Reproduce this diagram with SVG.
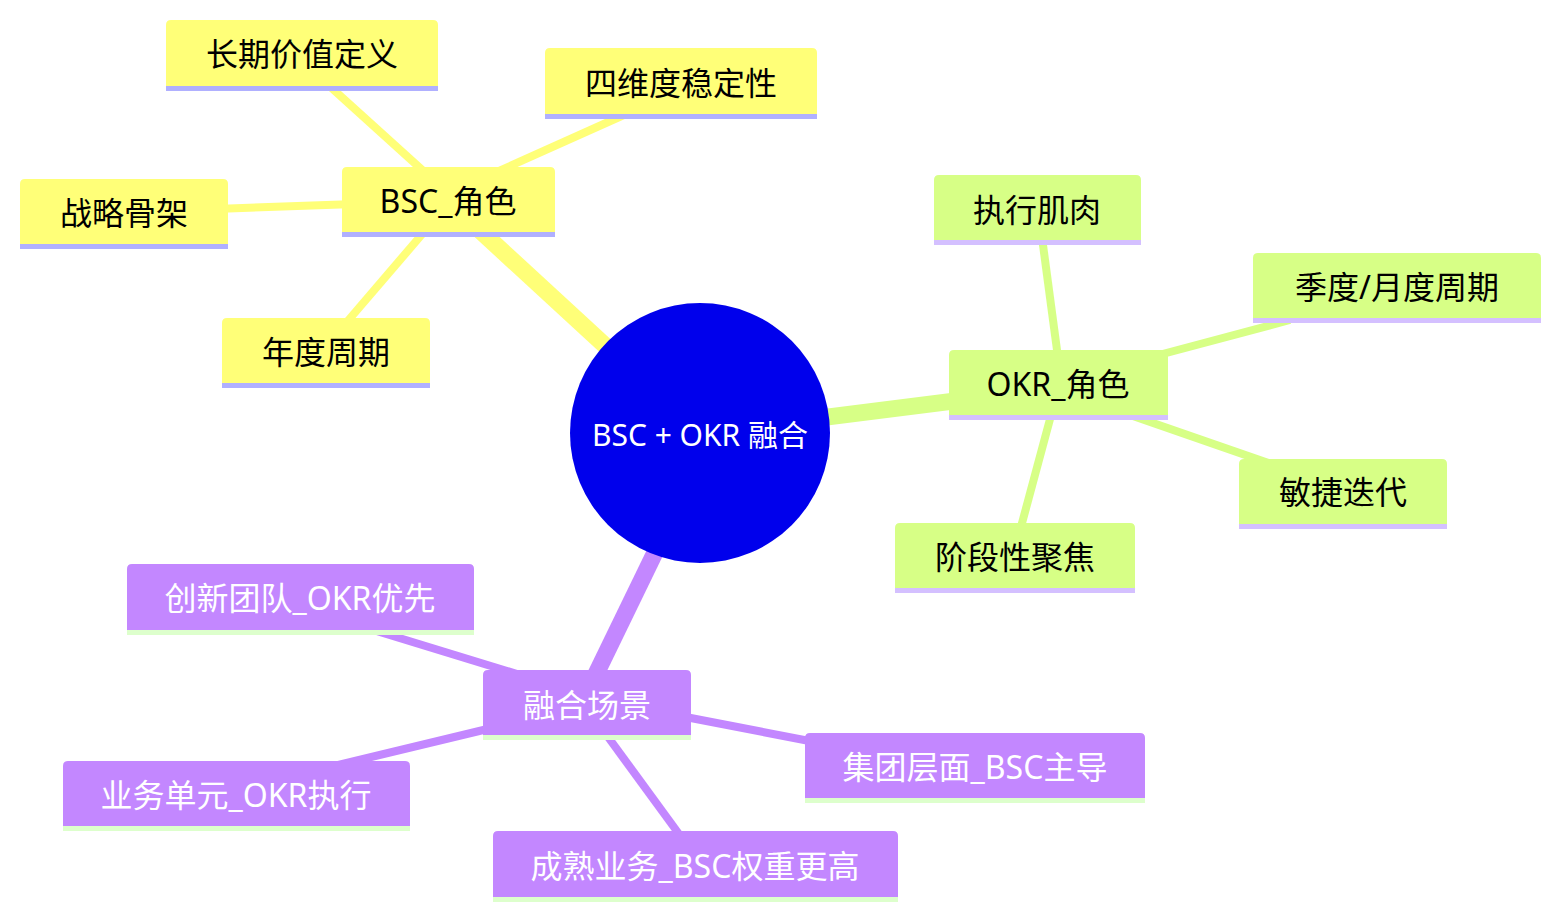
<svg xmlns="http://www.w3.org/2000/svg" width="1561" height="919" viewBox="0 0 1561 919">
<style>
text{font-family:"Noto Sans","Noto Sans CJK SC",sans-serif;font-size:32px;text-anchor:middle;dominant-baseline:central}
.s0 .bg{fill:#ffff78}.s0 .ul{fill:#b0b0ff}.s0 text{fill:#000}
.s1 .bg{fill:#d7ff86}.s1 .ul{fill:#d4c0ff}.s1 text{fill:#000}
.s2 .bg{fill:#c387ff}.s2 .ul{fill:#ddffcc}.s2 text{fill:#fff}
.e0{stroke:#ffff78}.e1{stroke:#d7ff86}.e2{stroke:#c387ff}
#edges line{fill:none;stroke-linecap:butt}
.main{stroke-width:17}.leaf{stroke-width:8}
</style>
<rect width="1561" height="919" fill="#fff"/>
<g id="edges">
<line class="e0 main" x1="448" y1="201" x2="700" y2="433"/>
<line class="e1 main" x1="700" y1="433" x2="1058" y2="388"/>
<line class="e2 main" x1="713" y1="433" x2="581" y2="705"/>
<line class="e0 leaf" x1="325" y1="82" x2="430" y2="177"/>
<line class="e0 leaf" x1="635" y1="110" x2="490" y2="175"/>
<line class="e0 leaf" x1="215" y1="209" x2="355" y2="204"/>
<line class="e0 leaf" x1="340" y1="330" x2="430" y2="225"/>
<line class="e1 leaf" x1="1041" y1="230" x2="1059" y2="365"/>
<line class="e1 leaf" x1="1290" y1="320" x2="1140" y2="360"/>
<line class="e1 leaf" x1="1130" y1="415" x2="1280" y2="467"/>
<line class="e1 leaf" x1="1053" y1="408" x2="1018" y2="538"/>
<line class="e2 leaf" x1="370" y1="629" x2="530" y2="678"/>
<line class="e2 leaf" x1="330" y1="767" x2="500" y2="726"/>
<line class="e2 leaf" x1="670" y1="714" x2="825" y2="744"/>
<line class="e2 leaf" x1="600" y1="726" x2="687" y2="845"/>
</g>
<g id="root"><circle cx="700" cy="433" r="130" fill="#0000ec"/><text x="700" y="434" fill="#fff" style="font-size:30px">BSC + OKR 融合</text></g>
<g id="n_bsc" class="s0"><path class="bg" d="M342,232V172Q342,167 347,167H550Q555,167 555,172V232Z"/><rect class="ul" x="342" y="232" width="213" height="5"/><text x="448" y="200">BSC_角色</text></g>
<g id="n_cq" class="s0"><path class="bg" d="M166,86V25Q166,20 171,20H433Q438,20 438,25V86Z"/><rect class="ul" x="166" y="86" width="272" height="5"/><text x="302" y="53">长期价值定义</text></g>
<g id="n_sw" class="s0"><path class="bg" d="M545,114V53Q545,48 550,48H812Q817,48 817,53V114Z"/><rect class="ul" x="545" y="114" width="272" height="5"/><text x="681" y="82">四维度稳定性</text></g>
<g id="n_zl" class="s0"><path class="bg" d="M20,244V184Q20,179 25,179H223Q228,179 228,184V244Z"/><rect class="ul" x="20" y="244" width="208" height="5"/><text x="124" y="212">战略骨架</text></g>
<g id="n_nd" class="s0"><path class="bg" d="M222,383V323Q222,318 227,318H425Q430,318 430,323V383Z"/><rect class="ul" x="222" y="383" width="208" height="5"/><text x="326" y="351">年度周期</text></g>
<g id="n_okr" class="s1"><path class="bg" d="M949,415V355Q949,350 954,350H1163Q1168,350 1168,355V415Z"/><rect class="ul" x="949" y="415" width="219" height="5"/><text x="1058" y="383">OKR_角色</text></g>
<g id="n_zx" class="s1"><path class="bg" d="M934,240V180Q934,175 939,175H1136Q1141,175 1141,180V240Z"/><rect class="ul" x="934" y="240" width="207" height="5"/><text x="1037" y="209">执行肌肉</text></g>
<g id="n_jd" class="s1"><path class="bg" d="M1253,318V258Q1253,253 1258,253H1536Q1541,253 1541,258V318Z"/><rect class="ul" x="1253" y="318" width="288" height="5"/><text x="1397" y="286">季度/月度周期</text></g>
<g id="n_mj" class="s1"><path class="bg" d="M1239,524V464Q1239,459 1244,459H1442Q1447,459 1447,464V524Z"/><rect class="ul" x="1239" y="524" width="208" height="5"/><text x="1343" y="491">敏捷迭代</text></g>
<g id="n_jdx" class="s1"><path class="bg" d="M895,588V528Q895,523 900,523H1130Q1135,523 1135,528V588Z"/><rect class="ul" x="895" y="588" width="240" height="5"/><text x="1015" y="556">阶段性聚焦</text></g>
<g id="n_rh" class="s2"><path class="bg" d="M483,735V675Q483,670 488,670H686Q691,670 691,675V735Z"/><rect class="ul" x="483" y="735" width="208" height="5"/><text x="587" y="704">融合场景</text></g>
<g id="n_cx" class="s2"><path class="bg" d="M127,630V569Q127,564 132,564H469Q474,564 474,569V630Z"/><rect class="ul" x="127" y="630" width="347" height="5"/><text x="300" y="597">创新团队_OKR优先</text></g>
<g id="n_yw" class="s2"><path class="bg" d="M63,826V766Q63,761 68,761H405Q410,761 410,766V826Z"/><rect class="ul" x="63" y="826" width="347" height="5"/><text x="236" y="794">业务单元_OKR执行</text></g>
<g id="n_jt" class="s2"><path class="bg" d="M805,798V738Q805,733 810,733H1140Q1145,733 1145,738V798Z"/><rect class="ul" x="805" y="798" width="340" height="5"/><text x="975" y="766">集团层面_BSC主导</text></g>
<g id="n_cs" class="s2"><path class="bg" d="M493,897V836Q493,831 498,831H893Q898,831 898,836V897Z"/><rect class="ul" x="493" y="897" width="405" height="5"/><text x="695" y="865">成熟业务_BSC权重更高</text></g>
</svg>
